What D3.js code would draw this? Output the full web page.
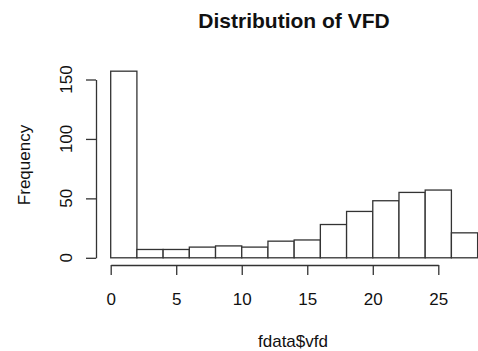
<!DOCTYPE html>
<html>
    <head>
        <meta charset="utf-8">
        <title>Distribution of VFD</title>
        <script src="https://d3js.org/d3.v7.min.js" charset="utf-8"></script>
        <style type="text/css">
        body {
            margin: 0;
            background: white;
        }

        svg text {
            font-family: 'Liberation Sans', Arial, Helvetica, sans-serif;
            fill: #111;
        }

        .axis path, .axis line {
            stroke: #333;
            stroke-width: 1.3px;
        }

        .bar {
            fill: white;
            stroke: #333;
            stroke-width: 1.3px;
        }
    </style>
    </head>
    <body>
        <script type="text/javascript">

        // histogram bins (width 2) and counts
        var binStarts = [0, 2, 4, 6, 8, 10, 12, 14, 16, 18, 20, 22, 24, 26];
        var counts    = [157, 7, 7, 9, 10, 9, 14, 15, 28, 39, 48, 55, 57, 21];
        var binWidth  = 2;

        var xTicks = [0, 5, 10, 15, 20, 25];
        var yTicks = [0, 50, 100, 150];

        var w = 478;
        var h = 351;

        var svg = d3.select('body')
            .append('svg')
            .attr('width', w)
            .attr('height', h)
            ;

        var x = d3.scaleLinear()
            .domain([0, 25])
            .range([110.7, 438.3]);

        var y = d3.scaleLinear()
            .domain([0, 150])
            .range([257.8, 79.5]);

        var bins = binStarts.map(function(b, i){
            return {x0: b, x1: b + binWidth, n: counts[i]};
        });

        svg.selectAll('rect.bar')
           .data(bins)
           .enter()
           .append('rect')
           .attr('class', 'bar')
           .attr('x', function(d){ return x(d.x0); })
           .attr('y', function(d){ return y(d.n); })
           .attr('width', function(d){ return x(d.x1) - x(d.x0); })
           .attr('height', function(d){ return y(0) - y(d.n); })
           ;

        // x axis
        var gx = svg.append('g')
            .attr('class', 'axis')
            .attr('transform', 'translate(0,265)')
            .call(d3.axisBottom(x).tickValues(xTicks).tickSize(10).tickSizeOuter(0));

        gx.selectAll('text')
          .attr('y', 40)
          .attr('dy', 0)
          .style('font-size', '17px')
          ;

        // y axis
        var gy = svg.append('g')
            .attr('class', 'axis')
            .attr('transform', 'translate(96,0)')
            .call(d3.axisLeft(y).tickValues(yTicks).tickSize(10).tickSizeOuter(0));

        gy.selectAll('text').remove();

        svg.selectAll('text.ytick')
           .data(yTicks)
           .enter()
           .append('text')
           .attr('class', 'ytick')
           .attr('transform', function(d){
               return 'translate(72,' + y(d) + ') rotate(-90)';
           })
           .attr('text-anchor', 'middle')
           .style('font-size', '17px')
           .text(function(d){ return d; })
           ;

        // labels
        svg.append('text')
           .attr('x', 294)
           .attr('y', 28.3)
           .attr('text-anchor', 'middle')
           .style('font-size', '21px')
           .style('font-weight', 'bold')
           .text('Distribution of VFD')
           ;

        svg.append('text')
           .attr('x', 293)
           .attr('y', 347)
           .attr('text-anchor', 'middle')
           .style('font-size', '17px')
           .text('fdata$vfd')
           ;

        svg.append('text')
           .attr('transform', 'translate(29.5,165) rotate(-90)')
           .attr('text-anchor', 'middle')
           .style('font-size', '17px')
           .text('Frequency')
           ;

        </script>
    </body>
</html>
